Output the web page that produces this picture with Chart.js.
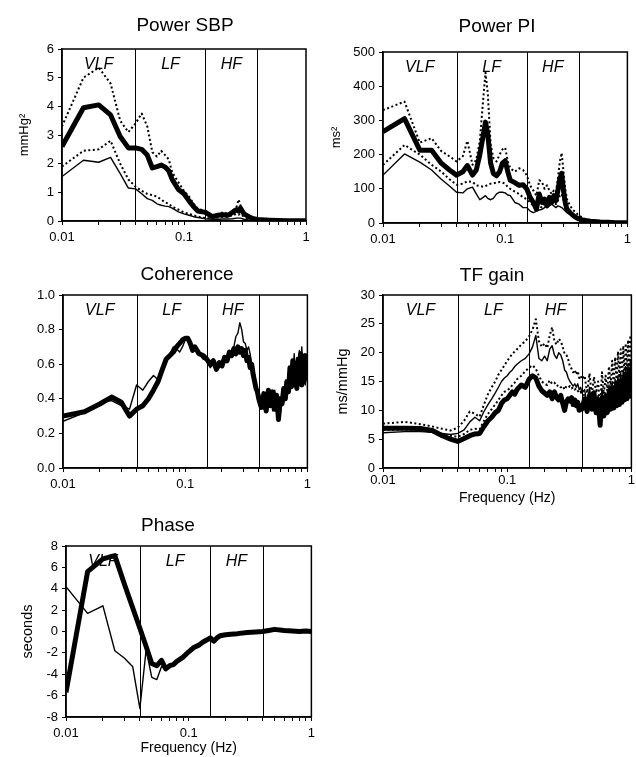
<!DOCTYPE html>
<html>
<head>
<meta charset="utf-8">
<script src="https://cdn.jsdelivr.net/npm/chart.js@4.4.1/dist/chart.umd.min.js"></script>
<style>
  body { margin: 0; background: #fff; }
  #lienzo { position: relative; width: 636px; height: 757px; overflow: hidden; background: #fff; }
  .panel { position: absolute; }
</style>
</head>
<body>
<div id="lienzo">
  <div class="panel" style="left:0px;top:0px;width:316px;height:250px"><canvas id="graficoPotenciaSBP"></canvas></div>
  <div class="panel" style="left:316px;top:0px;width:320px;height:250px"><canvas id="graficoPotenciaPI"></canvas></div>
  <div class="panel" style="left:0px;top:250px;width:316px;height:250px"><canvas id="graficoCoherencia"></canvas></div>
  <div class="panel" style="left:316px;top:250px;width:320px;height:257px"><canvas id="graficoGanancia"></canvas></div>
  <div class="panel" style="left:0px;top:500px;width:320px;height:257px"><canvas id="graficoFase"></canvas></div>
</div>
<script>
//#region DATOS

// ejes y bandas
let limitesBandas = [0.04, 0.15, 0.4];
let nombresBandas = ['VLF', 'LF', 'HF'];
let ticksX = [0.01, 0.1, 1];
let etiquetasX = ['0.01', '0.1', '1'];

// Power SBP
let frecSBP = [0.01, 0.015, 0.02, 0.025, 0.03, 0.035, 0.04, 0.045, 0.05, 0.055, 0.06, 0.065, 0.07, 0.075, 0.08,
  0.09, 0.1, 0.11, 0.12, 0.13, 0.15, 0.17, 0.19, 0.21, 0.23, 0.25, 0.27, 0.28, 0.29, 0.31, 0.34, 0.37, 0.4,
  0.5, 0.6, 0.7, 0.8, 0.9, 1];
let sbpGruesa = [2.6, 3.95, 4.05, 3.7, 2.95, 2.55, 2.55, 2.5, 2.3, 1.85, 1.9, 1.95, 1.88, 1.75, 1.45,
  1.1, 0.95, 0.7, 0.5, 0.35, 0.3, 0.15, 0.2, 0.22, 0.2, 0.3, 0.4, 0.35, 0.45, 0.25, 0.15, 0.08, 0.05,
  0.03, 0.02, 0.01, 0.01, 0.01, 0.01];
let sbpSuperior = [3.3, 5.0, 5.35, 4.8, 3.5, 3.1, 3.4, 3.75, 3.3, 2.4, 2.25, 2.45, 2.3, 2.15, 1.7,
  1.35, 1.05, 0.85, 0.6, 0.42, 0.35, 0.2, 0.25, 0.3, 0.25, 0.35, 0.5, 0.75, 0.55, 0.3, 0.18, 0.1, 0.06,
  0.04, 0.03, 0.02, 0.01, 0.01, 0.01];
let sbpInferior = [1.9, 2.45, 2.5, 2.8, 2.0, 1.45, 1.2, 1.05, 0.95, 0.9, 0.85, 0.75, 0.65, 0.6, 0.5,
  0.4, 0.3, 0.25, 0.2, 0.15, 0.1, 0.1, 0.12, 0.15, 0.15, 0.2, 0.25, 0.22, 0.25, 0.15, 0.08, 0.05, 0.03,
  0.02, 0.01, 0.01, 0.01, 0.01, 0.01];
let sbpFina = [1.55, 2.12, 2.05, 2.22, 1.65, 1.15, 1.12, 0.95, 0.78, 0.72, 0.6, 0.55, 0.52, 0.5, 0.45,
  0.32, 0.25, 0.2, 0.15, 0.12, 0.08, 0.06, 0.06, 0.07, 0.07, 0.08, 0.1, 0.1, 0.1, 0.06, 0.04, 0.03, 0.02,
  0.01, 0.01, 0, 0, 0, 0];

// Power PI
let frecPI = [0.01, 0.015, 0.02, 0.025, 0.03, 0.035, 0.04, 0.045,
  0.049, 0.054, 0.058, 0.062, 0.066, 0.069, 0.072, 0.076, 0.08, 0.085, 0.09, 0.095, 0.1,
  0.105, 0.11, 0.12,
  0.13, 0.14, 0.15, 0.16, 0.17, 0.18, 0.19, 0.2, 0.21, 0.22, 0.23, 0.24, 0.25, 0.26, 0.27, 0.28, 0.29, 0.3, 0.31, 0.32,
  0.34, 0.36, 0.38, 0.4,
  0.45, 0.5, 0.6, 0.7, 0.8, 0.9, 1];
let piGruesa = [267, 305, 213, 213, 175, 155, 140, 150,
  168, 140, 155, 200, 255, 295, 260, 175, 145, 138, 150, 175, 182,
  150, 125, 118,
  110, 112, 100, 75, 60, 40, 85, 60, 70, 50, 75, 60, 80, 65, 95, 130, 145, 95, 60, 40,
  30, 22, 16, 12,
  7, 5, 3, 2, 1, 1, 1];
let piSuperior = [330, 355, 235, 248, 210, 195, 180, 195,
  240, 170, 185, 240, 360, 440, 380, 230, 190, 180, 200, 215, 220,
  180, 160, 150,
  160, 155, 140, 110, 95, 80, 125, 120, 100, 110, 95, 85, 95, 90, 130, 180, 205, 150, 100, 70,
  50, 38, 30, 22,
  12, 8, 5, 3, 2, 1, 1];
let piInferior = [170, 228, 200, 170, 150, 128, 112, 115,
  122, 120, 110, 108, 106, 108, 112, 115, 116, 118, 120, 118, 115,
  105, 100, 92,
  85, 75, 70, 60, 50, 40, 50, 45, 60, 50, 65, 55, 70, 55, 65, 80, 85, 65, 45, 35,
  28, 20, 14, 10,
  6, 4, 2, 1, 1, 0, 0];
let piFina = [140, 202, 178, 155, 128, 108, 90, 88,
  100, 105, 85, 68, 75, 80, 72, 68, 72, 85, 90, 90, 88,
  82, 80, 60,
  55, 45, 45, 35, 30, 35, 38, 40, 45, 55, 50, 55, 50, 45, 50, 48, 45, 40, 35, 30,
  25, 18, 12, 9,
  5, 3, 2, 1, 1, 0, 0];

// Coherence y TF gain (misma rejilla de frecuencias)
let frecFina = [0.01, 0.015, 0.02, 0.025, 0.03, 0.035, 0.04, 0.045, 0.05, 0.055, 0.06, 0.065, 0.07, 0.075,
  0.08, 0.085, 0.09, 0.095, 0.1, 0.105, 0.11, 0.115, 0.12,
  0.13, 0.14, 0.15, 0.16, 0.17, 0.18, 0.19, 0.2, 0.21, 0.22, 0.23, 0.24, 0.25, 0.26, 0.27, 0.28, 0.29, 0.3,
  0.31, 0.32, 0.33, 0.34, 0.35, 0.36, 0.37, 0.38, 0.39, 0.4,
  0.42, 0.44, 0.46, 0.48, 0.5, 0.52, 0.54, 0.56, 0.58, 0.6, 0.62, 0.64, 0.66, 0.68, 0.7,
  0.72, 0.74, 0.76, 0.78, 0.8, 0.82, 0.84, 0.86, 0.88, 0.9, 0.92, 0.94, 0.96, 0.98, 1];
let cohGruesa = [0.30, 0.325, 0.37, 0.41, 0.38, 0.30, 0.34, 0.36, 0.40, 0.45, 0.50, 0.57, 0.63, 0.65,
  0.67, 0.70, 0.72, 0.74, 0.75, 0.75, 0.72, 0.68, 0.70,
  0.66, 0.65, 0.63, 0.60, 0.62, 0.57, 0.61, 0.59, 0.64, 0.62, 0.67, 0.65, 0.69, 0.66, 0.70, 0.67, 0.69, 0.65,
  0.68, 0.62, 0.64, 0.58, 0.60, 0.54, 0.50, 0.46, 0.44, 0.40,
  0.35, 0.43, 0.33, 0.45, 0.36, 0.44, 0.34, 0.42, 0.28, 0.40, 0.37, 0.46, 0.40, 0.50, 0.44,
  0.58, 0.47, 0.62, 0.48, 0.60, 0.46, 0.63, 0.50, 0.66, 0.48, 0.62, 0.50, 0.65, 0.52, 0.58];
let cohFina = [0.27, 0.32, 0.38, 0.39, 0.36, 0.34, 0.48, 0.45, 0.50, 0.535, 0.51, 0.58, 0.64, 0.66,
  0.70, 0.69, 0.67, 0.70, 0.74, 0.75, 0.71, 0.69, 0.68,
  0.66, 0.63, 0.62, 0.58, 0.60, 0.56, 0.58, 0.60, 0.62, 0.61, 0.66, 0.68, 0.70, 0.76, 0.78, 0.84, 0.80, 0.73,
  0.72, 0.68, 0.70, 0.66, 0.60, 0.55, 0.48, 0.45, 0.42, 0.43,
  0.40, 0.34, 0.44, 0.38, 0.42, 0.33, 0.45, 0.38, 0.36, 0.30, 0.44, 0.38, 0.50, 0.45, 0.55,
  0.46, 0.60, 0.50, 0.66, 0.52, 0.62, 0.55, 0.68, 0.52, 0.70, 0.55, 0.60, 0.48, 0.62, 0.55];

let tfGruesa = [6.9, 6.9, 6.85, 6.5, 5.6, 5.0, 4.6, 5.1, 5.6, 5.9, 6.0, 7.2, 8.2, 8.8,
  9.6, 10.0, 11.2, 11.8, 12.0, 12.6, 13.2, 12.8, 13.6,
  14.4, 14.0, 15.4, 16.0, 15.6, 14.2, 13.4, 13.0, 12.6, 13.2, 12.0, 13.2, 12.2, 11.8, 12.6, 11.2, 10.0, 11.5,
  12.0, 11.6, 12.2, 11.0, 11.8, 10.8, 11.4, 10.0, 10.8, 10.2,
  12.0, 9.8, 12.6, 10.2, 13.0, 9.6, 11.8, 7.4, 12.2, 9.0, 12.4, 9.6, 13.0, 10.2, 13.6,
  10.4, 14.0, 10.8, 14.6, 11.0, 15.0, 11.4, 15.4, 11.8, 15.8, 12.0, 16.0, 12.4, 15.6, 13.0];
let tfFina = [6.1, 6.3, 6.3, 6.2, 6.0, 5.8, 6.0, 6.6, 8.0, 8.8, 8.2, 9.8, 11.0, 12.0,
  13.0, 14.0, 15.0, 15.6, 16.0, 16.6, 17.0, 17.6, 18.0,
  18.6, 19.0, 19.8, 21.0, 23.0, 19.0, 18.6, 19.4, 18.6, 20.6, 21.2, 19.6, 19.0, 20.0, 19.6, 18.6, 17.0, 16.6,
  15.6, 15.0, 14.6, 14.2, 14.6, 14.0, 14.6, 13.6, 14.0, 13.0,
  13.6, 11.0, 14.0, 10.6, 13.4, 11.2, 12.6, 8.6, 13.8, 10.4, 13.0, 11.0, 14.4, 11.6, 15.0,
  12.0, 15.4, 12.4, 16.0, 12.6, 16.4, 13.0, 17.0, 13.4, 17.6, 13.8, 18.0, 14.2, 18.6, 15.0];
let tfSuperior = [7.7, 8.0, 7.6, 7.2, 6.8, 6.5, 7.0, 8.2, 9.8, 9.4, 8.9, 11.0, 12.8, 14.0,
  15.0, 16.2, 17.0, 17.8, 18.6, 19.2, 19.8, 20.2, 20.6,
  21.4, 22.0, 22.8, 24.0, 25.8, 22.0, 21.0, 21.6, 20.8, 23.0, 24.4, 22.0, 21.4, 22.4, 22.0, 21.0, 19.8, 19.6,
  18.8, 17.6, 17.2, 16.6, 17.0, 16.2, 16.8, 15.6, 16.0, 15.4,
  16.0, 13.0, 16.4, 12.6, 15.8, 13.0, 15.0, 10.4, 16.6, 12.8, 16.0, 13.4, 17.6, 14.0, 18.6,
  14.4, 19.2, 15.0, 20.2, 15.2, 20.6, 15.6, 21.2, 16.0, 21.6, 16.4, 22.2, 16.8, 23.0, 17.4];
let tfInferior = [6.6, 6.7, 6.6, 6.2, 5.8, 5.6, 5.4, 5.9, 6.6, 6.8, 6.7, 8.2, 9.4, 10.2,
  11.0, 11.8, 12.6, 13.2, 13.5, 13.8, 14.4, 14.8, 15.4,
  16.0, 16.8, 17.4, 17.8, 17.2, 16.0, 15.0, 14.6, 14.4, 15.2, 14.6, 14.8, 14.2, 14.4, 14.0, 14.2, 13.6, 14.2,
  14.0, 14.2, 13.8, 14.0, 13.6, 13.8, 13.4, 13.0, 13.2, 12.8,
  12.6, 10.4, 13.0, 11.0, 13.2, 10.6, 12.4, 8.0, 13.0, 10.0, 12.8, 10.6, 13.6, 11.0, 14.0,
  11.4, 14.6, 11.8, 15.0, 12.0, 15.4, 12.4, 15.8, 12.8, 16.2, 13.0, 16.6, 13.4, 17.0, 13.8];

// Phase
let frecFase = [0.01, 0.015, 0.02, 0.025, 0.03, 0.035, 0.04, 0.045, 0.05, 0.055, 0.06, 0.065, 0.07, 0.075, 0.08,
  0.09, 0.1, 0.11, 0.12, 0.13, 0.14, 0.15, 0.16, 0.17, 0.18,
  0.2, 0.22, 0.25, 0.3, 0.35, 0.4,
  0.45, 0.5, 0.6, 0.7, 0.8, 0.9, 1];
let faseGruesa = [-5.7, 5.6, 6.8, 7.1, 4.4, 2.2, 0.3, -1.4, -3.0, -3.2, -2.7, -3.5, -3.2, -3.1, -2.8,
  -2.4, -1.9, -1.5, -1.3, -1.0, -0.8, -0.6, -0.9, -0.6, -0.4,
  -0.3, -0.25, -0.2, -0.1, -0.05, 0.0,
  0.1, 0.2, 0.1, 0.05, 0.0, 0.05, 0.0];
let faseFina = [4.2, 1.7, 2.4, -1.8, -2.5, -3.3, -7.2, -1.7, -4.3, -4.5, -3.3, -3.4, -3.3, -3.0, -2.8,
  -2.3, -1.9, -1.6, -1.3, -1.0, -0.9, -0.7, -0.8, -0.6, -0.5,
  -0.3, -0.3, -0.2, -0.1, 0.0, 0.0,
  0.1, 0.1, 0.1, 0.0, 0.0, 0.0, 0.0];

//#endregion


//#region ESTILOS Y PLUGINS

Chart.defaults.font.family = '"Liberation Sans", Arial, Helvetica, sans-serif';
Chart.defaults.font.size = 13;
Chart.defaults.color = '#000';
Chart.defaults.animation = false;

let estilosLinea = {
  gruesa: { borderWidth: 5, borderDash: [] },
  fina: { borderWidth: 1.4, borderDash: [] },
  punteada: { borderWidth: 2, borderDash: [2, 2.5] }
};

function serie(frecuencias, valores, estilo) {
  return {
    data: frecuencias.map((f, i) => ({ x: f, y: valores[i] })),
    borderColor: '#000',
    borderWidth: estilosLinea[estilo].borderWidth,
    borderDash: estilosLinea[estilo].borderDash,
    borderJoinStyle: 'round',
    pointRadius: 0,
    pointHoverRadius: 0,
    tension: 0,
    fill: false
  };
}

// marcas menores del eje x: 0.01, 0.02 ... 0.9, 1
let valoresMarcasX = [];
[0.01, 0.1].forEach(decada => {
  for (let k = 1; k <= 9; k++) valoresMarcasX.push(+(k * decada).toFixed(3));
});
valoresMarcasX.push(1);

// lineas de bandas, rotulos VLF/LF/HF, marco y titulo del panel
let pluginPanel = {
  id: 'panel',
  beforeDatasetsDraw(chart) {
    let ctx = chart.ctx;
    let area = chart.chartArea;
    let x = chart.scales.x;
    ctx.save();
    ctx.strokeStyle = '#000';
    ctx.lineWidth = 1;
    limitesBandas.forEach(f => {
      let px = Math.round(x.getPixelForValue(f)) + 0.5;
      ctx.beginPath();
      ctx.moveTo(px, area.top);
      ctx.lineTo(px, area.bottom);
      ctx.stroke();
    });
    let bordes = [0.01].concat(limitesBandas);
    ctx.font = 'italic 16px "Liberation Sans", Arial, sans-serif';
    ctx.fillStyle = '#000';
    ctx.textAlign = 'center';
    ctx.textBaseline = 'alphabetic';
    nombresBandas.forEach((nombre, i) => {
      let centro = Math.sqrt(bordes[i] * bordes[i + 1]);
      ctx.fillText(nombre, x.getPixelForValue(centro), area.top + 20);
    });
    ctx.restore();
  },
  afterDatasetsDraw(chart) {
    let ctx = chart.ctx;
    let area = chart.chartArea;
    ctx.save();
    ctx.strokeStyle = '#000';
    ctx.lineWidth = 1.5;
    ctx.strokeRect(area.left, area.top, area.right - area.left, area.bottom - area.top);
    ctx.restore();
  },
  afterDraw(chart, args, opciones) {
    let ctx = chart.ctx;
    ctx.save();
    ctx.font = '19px "Liberation Sans", Arial, sans-serif';
    ctx.fillStyle = '#000';
    ctx.textAlign = 'center';
    ctx.textBaseline = 'alphabetic';
    ctx.fillText(opciones.texto, opciones.x, opciones.y);
    ctx.restore();
  }
};

function crearOpciones(cfg) {
  return {
    responsive: true,
    maintainAspectRatio: false,
    events: [],
    layout: { padding: cfg.relleno },
    plugins: {
      legend: { display: false },
      tooltip: { enabled: false },
      panel: cfg.titulo
    },
    scales: {
      x: {
        type: 'logarithmic',
        min: 0.01,
        max: 1,
        afterBuildTicks: escala => { escala.ticks = valoresMarcasX.map(v => ({ value: v })); },
        afterFit: escala => { escala.height = cfg.altoX; },
        ticks: {
          autoSkip: false,
          maxRotation: 0,
          padding: cfg.rellenoTicksX,
          font: { size: 13 },
          callback: valor => {
            let i = ticksX.findIndex(t => Math.abs(t - valor) < 1e-9);
            return i >= 0 ? etiquetasX[i] : '';
          }
        },
        grid: { drawOnChartArea: false, drawTicks: true, tickLength: 4, color: '#000', lineWidth: 1 },
        border: { display: true, color: '#000', width: 1.5 },
        title: {
          display: !!cfg.tituloX,
          text: cfg.tituloX || '',
          font: { size: 14 },
          padding: { top: 0, bottom: 0 }
        }
      },
      y: {
        type: 'linear',
        min: cfg.minY,
        max: cfg.maxY,
        afterFit: escala => { escala.width = cfg.anchoY; },
        ticks: {
          stepSize: cfg.pasoY,
          padding: 4,
          font: { size: 13 },
          callback: cfg.formatoY || (v => v)
        },
        grid: { drawOnChartArea: false, drawTicks: true, tickLength: 4, color: '#000', lineWidth: 1 },
        border: { display: true, color: '#000', width: 1.5 },
        title: {
          display: !!cfg.tituloY,
          text: cfg.tituloY || '',
          font: { size: cfg.fuenteTituloY || 13 },
          padding: { top: 4, bottom: 0 }
        }
      }
    }
  };
}

//#endregion


//#region GRAFICOS

let graficoPotenciaSBP = new Chart(document.getElementById('graficoPotenciaSBP'), {
  type: 'line',
  data: {
    datasets: [
      serie(frecSBP, sbpGruesa, 'gruesa'),
      serie(frecSBP, sbpFina, 'fina'),
      serie(frecSBP, sbpSuperior, 'punteada'),
      serie(frecSBP, sbpInferior, 'punteada')
    ]
  },
  options: crearOpciones({
    relleno: { left: 13, top: 49, right: 10, bottom: 0 },
    anchoY: 49, altoX: 29, rellenoTicksX: 5,
    minY: 0, maxY: 6, pasoY: 1, tituloY: 'mmHg\u00b2',
    titulo: { texto: 'Power SBP', x: 185, y: 30.5 }
  }),
  plugins: [pluginPanel]
});

let graficoPotenciaPI = new Chart(document.getElementById('graficoPotenciaPI'), {
  type: 'line',
  data: {
    datasets: [
      serie(frecPI, piGruesa, 'gruesa'),
      serie(frecPI, piFina, 'fina'),
      serie(frecPI, piSuperior, 'punteada'),
      serie(frecPI, piInferior, 'punteada')
    ]
  },
  options: crearOpciones({
    relleno: { left: 9, top: 52, right: 6, bottom: 0 },
    anchoY: 58, altoX: 27, rellenoTicksX: 5,
    minY: 0, maxY: 500, pasoY: 100, tituloY: 'ms\u00b2',
    titulo: { texto: 'Power PI', x: 181, y: 31.5 }
  }),
  plugins: [pluginPanel]
});

let graficoCoherencia = new Chart(document.getElementById('graficoCoherencia'), {
  type: 'line',
  data: {
    datasets: [
      serie(frecFina, cohGruesa, 'gruesa'),
      serie(frecFina, cohFina, 'fina')
    ]
  },
  options: crearOpciones({
    relleno: { left: 0, top: 45, right: 6, bottom: 0 },
    anchoY: 63, altoX: 32, rellenoTicksX: 5,
    minY: 0, maxY: 1, pasoY: 0.2, formatoY: v => v.toFixed(1),
    titulo: { texto: 'Coherence', x: 187, y: 30 }
  }),
  plugins: [pluginPanel]
});

let graficoGanancia = new Chart(document.getElementById('graficoGanancia'), {
  type: 'line',
  data: {
    datasets: [
      serie(frecFina, tfGruesa, 'gruesa'),
      serie(frecFina, tfFina, 'fina'),
      serie(frecFina, tfSuperior, 'punteada'),
      serie(frecFina, tfInferior, 'punteada')
    ]
  },
  options: crearOpciones({
    relleno: { left: 14, top: 45, right: 4, bottom: 0 },
    anchoY: 53, altoX: 39, rellenoTicksX: 1,
    minY: 0, maxY: 30, pasoY: 5, tituloY: 'ms/mmHg', fuenteTituloY: 14.5,
    tituloX: 'Frequency (Hz)',
    titulo: { texto: 'TF gain', x: 176, y: 30.7 }
  }),
  plugins: [pluginPanel]
});

let graficoFase = new Chart(document.getElementById('graficoFase'), {
  type: 'line',
  data: {
    datasets: [
      serie(frecFase, faseGruesa, 'gruesa'),
      serie(frecFase, faseFina, 'fina')
    ]
  },
  options: crearOpciones({
    relleno: { left: 15, top: 46, right: 8, bottom: 0 },
    anchoY: 51, altoX: 40, rellenoTicksX: 5,
    minY: -8, maxY: 8, pasoY: 2, tituloY: 'seconds', fuenteTituloY: 14.5,
    tituloX: 'Frequency (Hz)',
    titulo: { texto: 'Phase', x: 168, y: 30.7 }
  }),
  plugins: [pluginPanel]
});

//#endregion
</script>
</body>
</html>
